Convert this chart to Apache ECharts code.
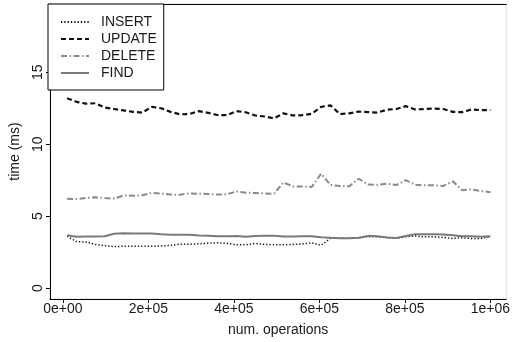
<!DOCTYPE html>
<html>
<head>
<meta charset="utf-8">
<script src="https://cdn.jsdelivr.net/npm/echarts@6/dist/echarts.min.js"></script>
<style>
  html, body { margin: 0; padding: 0; background: #fff; }
  #chart { width: 513px; height: 342px; }
</style>
</head>
<body>
<div id="chart"></div>
<script>
// Number of operations at each measurement
const ops = [10000, 32000, 54000, 76000, 98000, 120000, 142000, 164000, 186000, 208000,
  230000, 252000, 274000, 296000, 318000, 340000, 362000, 384000, 406000, 428000,
  450000, 472000, 494000, 516000, 538000, 560000, 582000, 604000, 626000, 648000,
  670000, 692000, 714000, 736000, 758000, 780000, 802000, 824000, 846000, 868000,
  890000, 912000, 934000, 956000, 978000, 1000000];

// Time per operation type (ms)
const insertMs = [3.6, 3.23, 3.2, 3.03, 2.95, 2.88, 2.91, 2.91, 2.91, 2.91,
  2.92, 2.97, 3.05, 3.05, 3.08, 3.12, 3.15, 3.1, 3.02, 3.01,
  3.1, 3.04, 3.01, 3.01, 3.03, 3.06, 3.15, 2.98, 3.46, 3.46,
  3.46, 3.49, 3.57, 3.57, 3.52, 3.47, 3.56, 3.62, 3.56, 3.56,
  3.52, 3.45, 3.5, 3.45, 3.45, 3.58];
const updateMs = [13.2, 12.95, 12.82, 12.85, 12.55, 12.45, 12.35, 12.25, 12.2, 12.6,
  12.5, 12.25, 12.08, 12.1, 12.3, 12.18, 12.03, 12.02, 12.3, 12.22,
  12.0, 11.93, 11.8, 12.15, 12.0, 12.02, 12.12, 12.6, 12.7, 12.1,
  12.15, 12.27, 12.23, 12.2, 12.4, 12.45, 12.65, 12.42, 12.45, 12.48,
  12.45, 12.25, 12.23, 12.42, 12.37, 12.37];
const deleteMs = [6.21, 6.19, 6.26, 6.31, 6.26, 6.22, 6.44, 6.42, 6.45, 6.62,
  6.57, 6.5, 6.49, 6.58, 6.56, 6.54, 6.5, 6.52, 6.72, 6.63,
  6.61, 6.58, 6.56, 7.35, 7.07, 7.07, 7.03, 7.95, 7.17, 7.1,
  7.08, 7.6, 7.2, 7.18, 7.25, 7.16, 7.5, 7.18, 7.14, 7.14,
  7.1, 7.42, 6.8, 6.86, 6.74, 6.67];
const findMs = [3.67, 3.57, 3.58, 3.58, 3.6, 3.78, 3.81, 3.8, 3.79, 3.8,
  3.74, 3.71, 3.7, 3.7, 3.66, 3.64, 3.6, 3.61, 3.62, 3.57,
  3.62, 3.64, 3.64, 3.59, 3.59, 3.6, 3.61, 3.53, 3.49, 3.46,
  3.46, 3.5, 3.63, 3.6, 3.52, 3.48, 3.62, 3.74, 3.74, 3.74,
  3.72, 3.68, 3.6, 3.6, 3.57, 3.6];

// Axis ticks and their labels
const xTicks = [0, 200000, 400000, 600000, 800000, 1000000];
const xTickLabels = ['0e+00', '2e+05', '4e+05', '6e+05', '8e+05', '1e+06'];
const yTicks = [0, 5, 10, 15];
const yTickLabels = ['0', '5', '10', '15'];

const font = 'Liberation Sans, Arial, Helvetica, sans-serif';
const ink = '#1a1a1a';

function pairs(vals) { return ops.map((x, i) => [x, vals[i]]); }

const chart = echarts.init(document.getElementById('chart'), null, { renderer: 'canvas' });

chart.setOption({
  animation: false,
  backgroundColor: '#fff',
  grid: {
    left: 48, right: 1, top: 4, bottom: 40,
    show: true, borderColor: '#dcdcdc', borderWidth: 1, backgroundColor: 'transparent'
  },
  legend: {
    orient: 'vertical',
    left: 48, top: 4,
    backgroundColor: '#fff',
    borderColor: '#000', borderWidth: 1,
    padding: [11, 7, 10, 12],
    itemWidth: 28, itemHeight: 14, itemGap: 3,
    // line samples only, no marker symbol
    itemStyle: { opacity: 0 },
    textStyle: { fontFamily: font, fontSize: 14, color: ink, padding: [0, 0, 0, 7] },
    data: ['INSERT', 'UPDATE', 'DELETE', 'FIND']
  },
  xAxis: [{
    type: 'value',
    min: -30000, max: 1037000,
    name: 'num. operations',
    nameLocation: 'middle', nameGap: 24,
    nameTextStyle: { fontFamily: font, fontSize: 14, color: ink },
    axisLine: { show: true, onZero: false, lineStyle: { color: '#000', width: 1 } },
    axisTick: { show: true, length: 4, customValues: xTicks, lineStyle: { color: '#000' } },
    axisLabel: {
      margin: 3, fontFamily: font, fontSize: 14, color: ink,
      customValues: xTicks,
      formatter: v => xTickLabels[xTicks.indexOf(v)]
    },
    splitLine: { show: false }
  }, {
    type: 'value', position: 'top',
    min: -30000, max: 1037000,
    axisLine: { show: true, onZero: false, lineStyle: { color: '#000', width: 1 } },
    axisTick: { show: false }, axisLabel: { show: false }, splitLine: { show: false }
  }],
  yAxis: {
    type: 'value',
    min: -0.76, max: 19.75,
    name: 'time (ms)',
    nameLocation: 'middle', nameGap: 28, nameRotate: 90,
    nameTextStyle: { fontFamily: font, fontSize: 14, color: ink },
    axisLine: { show: true, onZero: false, lineStyle: { color: '#000', width: 1 } },
    axisTick: { show: true, length: 4, customValues: yTicks, lineStyle: { color: '#000' } },
    axisLabel: {
      margin: 5, rotate: 90, fontFamily: font, fontSize: 14, color: ink,
      customValues: yTicks,
      formatter: v => yTickLabels[yTicks.indexOf(v)]
    },
    splitLine: { show: false }
  },
  series: [
    {
      name: 'INSERT', type: 'line', data: pairs(insertMs),
      symbol: 'none', lineStyle: { color: '#111', width: 1.5, type: [1.3, 2] },
      itemStyle: { color: '#111' }
    },
    {
      name: 'UPDATE', type: 'line', data: pairs(updateMs),
      symbol: 'none', lineStyle: { color: '#111', width: 2.2, type: [5, 3] },
      itemStyle: { color: '#111' }
    },
    {
      name: 'DELETE', type: 'line', data: pairs(deleteMs),
      symbol: 'none', lineStyle: { color: '#8a8a8a', width: 2, type: [6, 2.5, 1.5, 2.5] },
      itemStyle: { color: '#8a8a8a' }
    },
    {
      name: 'FIND', type: 'line', data: pairs(findMs),
      symbol: 'none', lineStyle: { color: '#7a7a7a', width: 2 },
      itemStyle: { color: '#7a7a7a' }
    }
  ]
});
</script>
</body>
</html>
